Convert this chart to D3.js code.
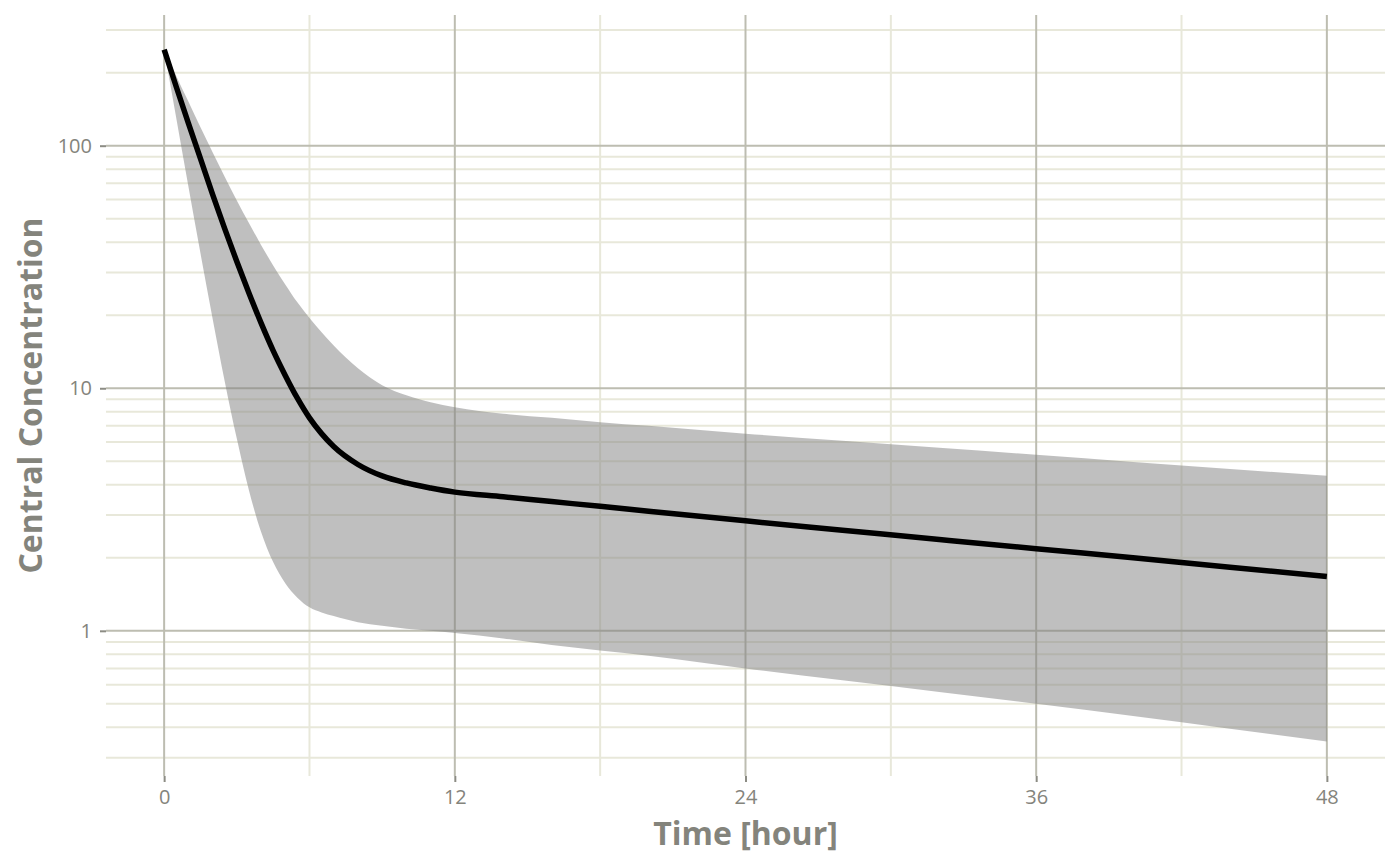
<!DOCTYPE html>
<html>
<head>
<meta charset="utf-8">
<script src="https://cdn.jsdelivr.net/npm/d3@7"></script>
<style>
  body { margin: 0; background: #ffffff; }
  svg text { font-family: "Open Sans", sans-serif; }
</style>
</head>
<body>
<div id="chart"></div>
<script>
// simulated central concentration: median and band limits
const times  = [0, 0.5, 1, 1.5, 2, 2.5, 3, 3.5, 4, 4.5, 5, 5.5, 6, 6.5, 7, 8, 9, 10, 11, 12, 14, 16, 18, 20, 24, 28, 32, 36, 40, 44, 48];
const median = [249, 175, 124, 88.5, 63, 45.5, 33.3, 24.7, 18.6, 14.3, 11.3, 9.1, 7.55, 6.5, 5.75, 4.85, 4.35, 4.07, 3.88, 3.73, 3.57, 3.41, 3.26, 3.11, 2.84, 2.6, 2.38, 2.18, 2.0, 1.83, 1.675];
const lower  = [249, 130, 68, 36, 19.4, 10.7, 6.2, 3.8, 2.56, 1.92, 1.57, 1.37, 1.25, 1.19, 1.15, 1.085, 1.05, 1.02, 1.0, 0.98, 0.93, 0.875, 0.83, 0.79, 0.70, 0.625, 0.56, 0.5, 0.445, 0.395, 0.35];
const upper  = [249, 194, 152, 119, 94, 74.5, 59.5, 48, 39, 32.1, 26.8, 22.6, 19.5, 17.0, 15.0, 12.1, 10.3, 9.35, 8.75, 8.35, 7.85, 7.55, 7.25, 7.0, 6.5, 6.08, 5.68, 5.32, 4.97, 4.65, 4.36];

const xTicks = [0, 12, 24, 36, 48];
const xMinorTicks = [6, 18, 30, 42];
const yTicks = [1, 10, 100];
const yTickLabels = ['1', '10', '100'];

const xTitle = 'Time [hour]';
const yTitle = 'Central Concentration';

class ConcPlot {
  constructor() {
    this.width = 1400;
    this.height = 865;
    this.panel = { left: 106, right: 1385, top: 15, bottom: 776 };
    this.major = '#bdbdb1';
    this.minor = '#e8e8da';
    this.tickColor = '#8c8c84';
    this.textColor = '#84847c';
  }

  /* ---
   * Draws the whole plot.
   */
  display(el) {
    this.el = el;

    this.createSvg();
    this.createScales();
    this.createGrid();
    this.createBand();
    this.createLine();
    this.createAxes();
  }

  /* ---
   * Helper: Returns the base SVG object.
   */
  createSvg() {
    this.svg = d3.select(this.el).append('svg')
      .attr('width', this.width)
      .attr('height', this.height);

    this.svg.append('rect')
      .attr('width', this.width)
      .attr('height', this.height)
      .attr('fill', '#ffffff');
  }

  /* ---
   * Helper: Scales with 5% expansion, y on log10.
   */
  createScales() {
    const p = this.panel;
    const tMin = d3.min(times), tMax = d3.max(times);
    const tPad = (tMax - tMin) * 0.05;
    this.x = d3.scaleLinear().domain([tMin - tPad, tMax + tPad]).range([p.left, p.right]);

    const lo = Math.log10(d3.min(lower)), hi = Math.log10(d3.max(upper));
    const lPad = (hi - lo) * 0.05;
    this.y = d3.scaleLog().domain([Math.pow(10, lo - lPad), Math.pow(10, hi + lPad)]).range([p.bottom, p.top]);
  }

  /* ---
   * Helper: Major and minor grid lines.
   */
  createGrid() {
    const p = this.panel;
    const [dLo, dHi] = this.y.domain();
    const yMinor = [];
    for (let k = -2; k <= 3; k++) {
      for (let m = 2; m <= 9; m++) {
        const v = m * Math.pow(10, k);
        if (v >= dLo && v <= dHi) yMinor.push(v);
      }
    }

    const grid = this.svg.append('g').attr('class', 'grid');

    grid.selectAll('.y-minor').data(yMinor).enter().append('line')
      .attr('x1', p.left).attr('x2', p.right)
      .attr('y1', (d) => this.y(d)).attr('y2', (d) => this.y(d))
      .attr('stroke', this.minor).attr('stroke-width', 2);

    grid.selectAll('.x-minor').data(xMinorTicks).enter().append('line')
      .attr('y1', p.top).attr('y2', p.bottom)
      .attr('x1', (d) => this.x(d)).attr('x2', (d) => this.x(d))
      .attr('stroke', this.minor).attr('stroke-width', 2);

    grid.selectAll('.y-major').data(yTicks).enter().append('line')
      .attr('x1', p.left).attr('x2', p.right)
      .attr('y1', (d) => this.y(d)).attr('y2', (d) => this.y(d))
      .attr('stroke', this.major).attr('stroke-width', 2);

    grid.selectAll('.x-major').data(xTicks).enter().append('line')
      .attr('y1', p.top).attr('y2', p.bottom)
      .attr('x1', (d) => this.x(d)).attr('x2', (d) => this.x(d))
      .attr('stroke', this.major).attr('stroke-width', 2);
  }

  /* ---
   * Helper: Shaded band between lower and upper.
   */
  createBand() {
    const area = d3.area()
      .x((d, i) => this.x(times[i]))
      .y0((d, i) => this.y(lower[i]))
      .y1((d, i) => this.y(upper[i]))
      .curve(d3.curveMonotoneX);

    this.svg.append('path')
      .datum(times)
      .attr('d', area)
      .attr('fill', '#7f7f7f')
      .attr('fill-opacity', 0.5);
  }

  /* ---
   * Helper: Median line.
   */
  createLine() {
    const line = d3.line()
      .x((d, i) => this.x(times[i]))
      .y((d) => this.y(d))
      .curve(d3.curveMonotoneX);

    this.svg.append('path')
      .datum(median)
      .attr('d', line)
      .attr('fill', 'none')
      .attr('stroke', '#000000')
      .attr('stroke-width', 5.5);
  }

  /* ---
   * Helper: Axes, tick labels and titles.
   */
  createAxes() {
    const p = this.panel;

    const xAxis = this.svg.append('g')
      .attr('transform', 'translate(0,' + p.bottom + ')')
      .call(d3.axisBottom(this.x).tickValues(xTicks).tickSize(6).tickPadding(8));

    const yAxis = this.svg.append('g')
      .attr('transform', 'translate(' + p.left + ',0)')
      .call(d3.axisLeft(this.y).tickValues(yTicks).tickFormat((d, i) => yTickLabels[i]).tickSize(6).tickPadding(8));

    [xAxis, yAxis].forEach((g) => {
      g.select('.domain').remove();
      g.selectAll('.tick line').attr('stroke', this.tickColor).attr('stroke-width', 2);
      g.selectAll('.tick text')
        .attr('fill', this.textColor)
        .style('font-size', '20px');
    });

    this.svg.append('text')
      .attr('x', (p.left + p.right) / 2)
      .attr('y', 845)
      .attr('text-anchor', 'middle')
      .attr('fill', this.textColor)
      .style('font-size', '32px')
      .style('font-weight', 'bold')
      .text(xTitle);

    this.svg.append('text')
      .attr('transform', 'translate(42,' + ((p.top + p.bottom) / 2) + ') rotate(-90)')
      .attr('text-anchor', 'middle')
      .attr('fill', this.textColor)
      .style('font-size', '32px')
      .style('font-weight', 'bold')
      .text(yTitle);
  }
}

new ConcPlot().display('#chart');
</script>
</body>
</html>
